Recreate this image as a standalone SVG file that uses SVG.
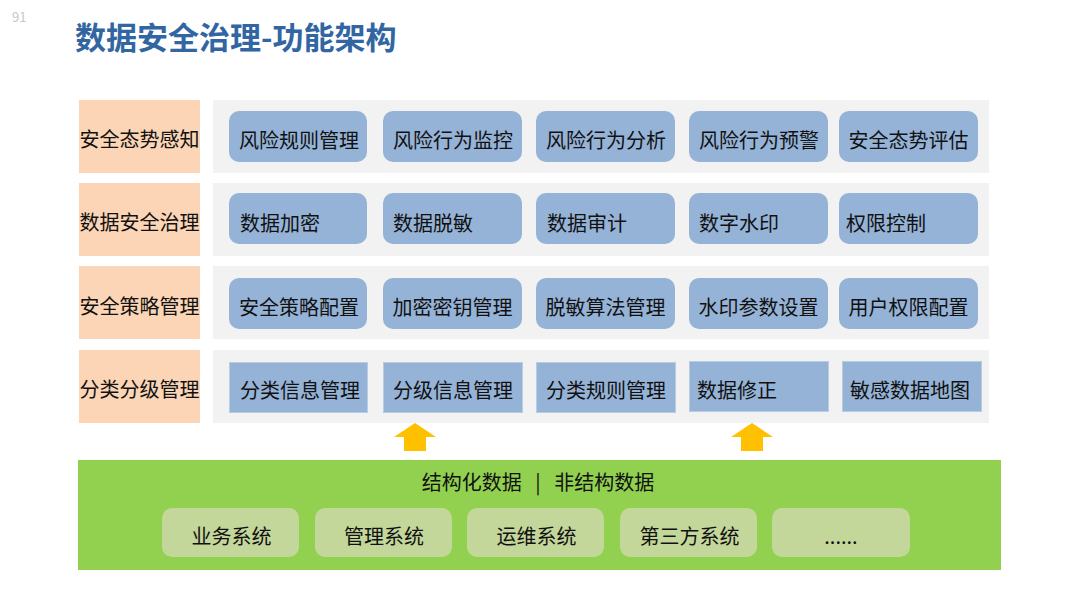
<svg xmlns="http://www.w3.org/2000/svg" width="1080" height="608" viewBox="0 0 1080 608">
<style>
text{font-family:"Noto Sans CJK SC","Microsoft YaHei",sans-serif;fill:#111;font-size:20px}
.title{font-size:31px;font-weight:bold;fill:#3166A3}
.pg{font-size:13px;fill:#c8c8c8}
.lab{fill:#FBD5B5}
.row{fill:#F2F2F2}
.b{fill:#95B3D7}
.b4{fill:#95B3D7;stroke:#B8CCE4;stroke-width:1}
.c{text-anchor:middle}
.src{fill:#C4D79B}
.arr{fill:#FFC000}
</style>
<rect width="1080" height="608" fill="#fff"/>
<text class="pg" x="12" y="22">91</text>
<text class="title" x="75" y="49">数据安全治理-功能架构</text>

<g id="layer1">
<rect class="lab" x="79" y="100" width="121" height="73"/>
<text x="139.5" y="147" class="c">安全态势感知</text>
<rect class="row" x="213" y="100" width="776" height="73"/>
<g id="n11"><rect class="b" x="229" y="111" width="138" height="51" rx="10"/><text class="c" x="299" y="148">风险规则管理</text></g>
<g id="n12"><rect class="b" x="383" y="111" width="139" height="51" rx="10"/><text class="c" x="453" y="148">风险行为监控</text></g>
<g id="n13"><rect class="b" x="536" y="111" width="139" height="51" rx="10"/><text class="c" x="606" y="148">风险行为分析</text></g>
<g id="n14"><rect class="b" x="689" y="111" width="139" height="51" rx="10"/><text class="c" x="759" y="148">风险行为预警</text></g>
<g id="n15"><rect class="b" x="839" y="111" width="139" height="51" rx="10"/><text class="c" x="908.5" y="148">安全态势评估</text></g>
</g>

<g id="layer2">
<rect class="lab" x="79" y="183" width="121" height="73"/>
<text x="139.5" y="230" class="c">数据安全治理</text>
<rect class="row" x="213" y="183" width="776" height="73"/>
<g id="n21"><rect class="b" x="229" y="193" width="138" height="51" rx="10"/><text x="240" y="231">数据加密</text></g>
<g id="n22"><rect class="b" x="383" y="193" width="139" height="51" rx="10"/><text x="393" y="231">数据脱敏</text></g>
<g id="n23"><rect class="b" x="536" y="193" width="139" height="51" rx="10"/><text x="547" y="231">数据审计</text></g>
<g id="n24"><rect class="b" x="689" y="193" width="139" height="51" rx="10"/><text x="699" y="231">数字水印</text></g>
<g id="n25"><rect class="b" x="839" y="193" width="139" height="51" rx="10"/><text x="846" y="231">权限控制</text></g>
</g>

<g id="layer3">
<rect class="lab" x="79" y="266" width="121" height="73"/>
<text x="139.5" y="314" class="c">安全策略管理</text>
<rect class="row" x="213" y="266" width="776" height="73"/>
<g id="n31"><rect class="b" x="229" y="278" width="138" height="51" rx="10"/><text class="c" x="299" y="314.5">安全策略配置</text></g>
<g id="n32"><rect class="b" x="383" y="278" width="139" height="51" rx="10"/><text class="c" x="452.5" y="314.5">加密密钥管理</text></g>
<g id="n33"><rect class="b" x="536" y="278" width="139" height="51" rx="10"/><text class="c" x="605.5" y="314.5">脱敏算法管理</text></g>
<g id="n34"><rect class="b" x="689" y="278" width="139" height="51" rx="10"/><text class="c" x="758.5" y="314.5">水印参数设置</text></g>
<g id="n35"><rect class="b" x="839" y="278" width="139" height="51" rx="10"/><text class="c" x="908.5" y="314.5">用户权限配置</text></g>
</g>

<g id="layer4">
<rect class="lab" x="79" y="350" width="121" height="73"/>
<text x="139.5" y="397" class="c">分类分级管理</text>
<rect class="row" x="213" y="350" width="776" height="73"/>
<g id="n41"><rect class="b4" x="229.5" y="362.5" width="138" height="50"/><text class="c" x="300" y="397.5">分类信息管理</text></g>
<g id="n42"><rect class="b4" x="383.5" y="362.5" width="139" height="50"/><text class="c" x="453" y="397.5">分级信息管理</text></g>
<g id="n43"><rect class="b4" x="536.5" y="362.5" width="139" height="50"/><text class="c" x="606" y="397.5">分类规则管理</text></g>
<g id="n44"><rect class="b4" x="689.5" y="361.5" width="139" height="50"/><text x="697" y="397.5">数据修正</text></g>
<g id="n45"><rect class="b4" x="842.5" y="361.5" width="139" height="50"/><text class="c" x="910" y="397.5">敏感数据地图</text></g>
</g>

<g id="connectors">
<path class="arr" d="M415,423 L436,437 L426,437 L426,451 L404,451 L404,437 L394,437 Z"/>
<path class="arr" d="M752,423 L773,437 L763,437 L763,451 L741,451 L741,437 L731,437 Z"/>
</g>

<g id="sources">
<rect x="78" y="460" width="923" height="110" fill="#92D050"/>
<text class="c" x="538" y="490" xml:space="preserve">结构化数据   |   非结构数据</text>
<g id="s1"><rect class="src" x="162" y="508" width="137" height="49" rx="10"/><text class="c" x="231.5" y="544">业务系统</text></g>
<g id="s2"><rect class="src" x="315" y="508" width="137" height="49" rx="10"/><text class="c" x="384" y="544">管理系统</text></g>
<g id="s3"><rect class="src" x="467" y="508" width="137" height="49" rx="10"/><text class="c" x="536.5" y="544">运维系统</text></g>
<g id="s4"><rect class="src" x="620" y="508" width="137" height="49" rx="10"/><text class="c" x="689.5" y="544">第三方系统</text></g>
<g id="s5"><rect class="src" x="772" y="508" width="138" height="49" rx="10"/><text class="c" x="841" y="544">......</text></g>
</g>
</svg>
